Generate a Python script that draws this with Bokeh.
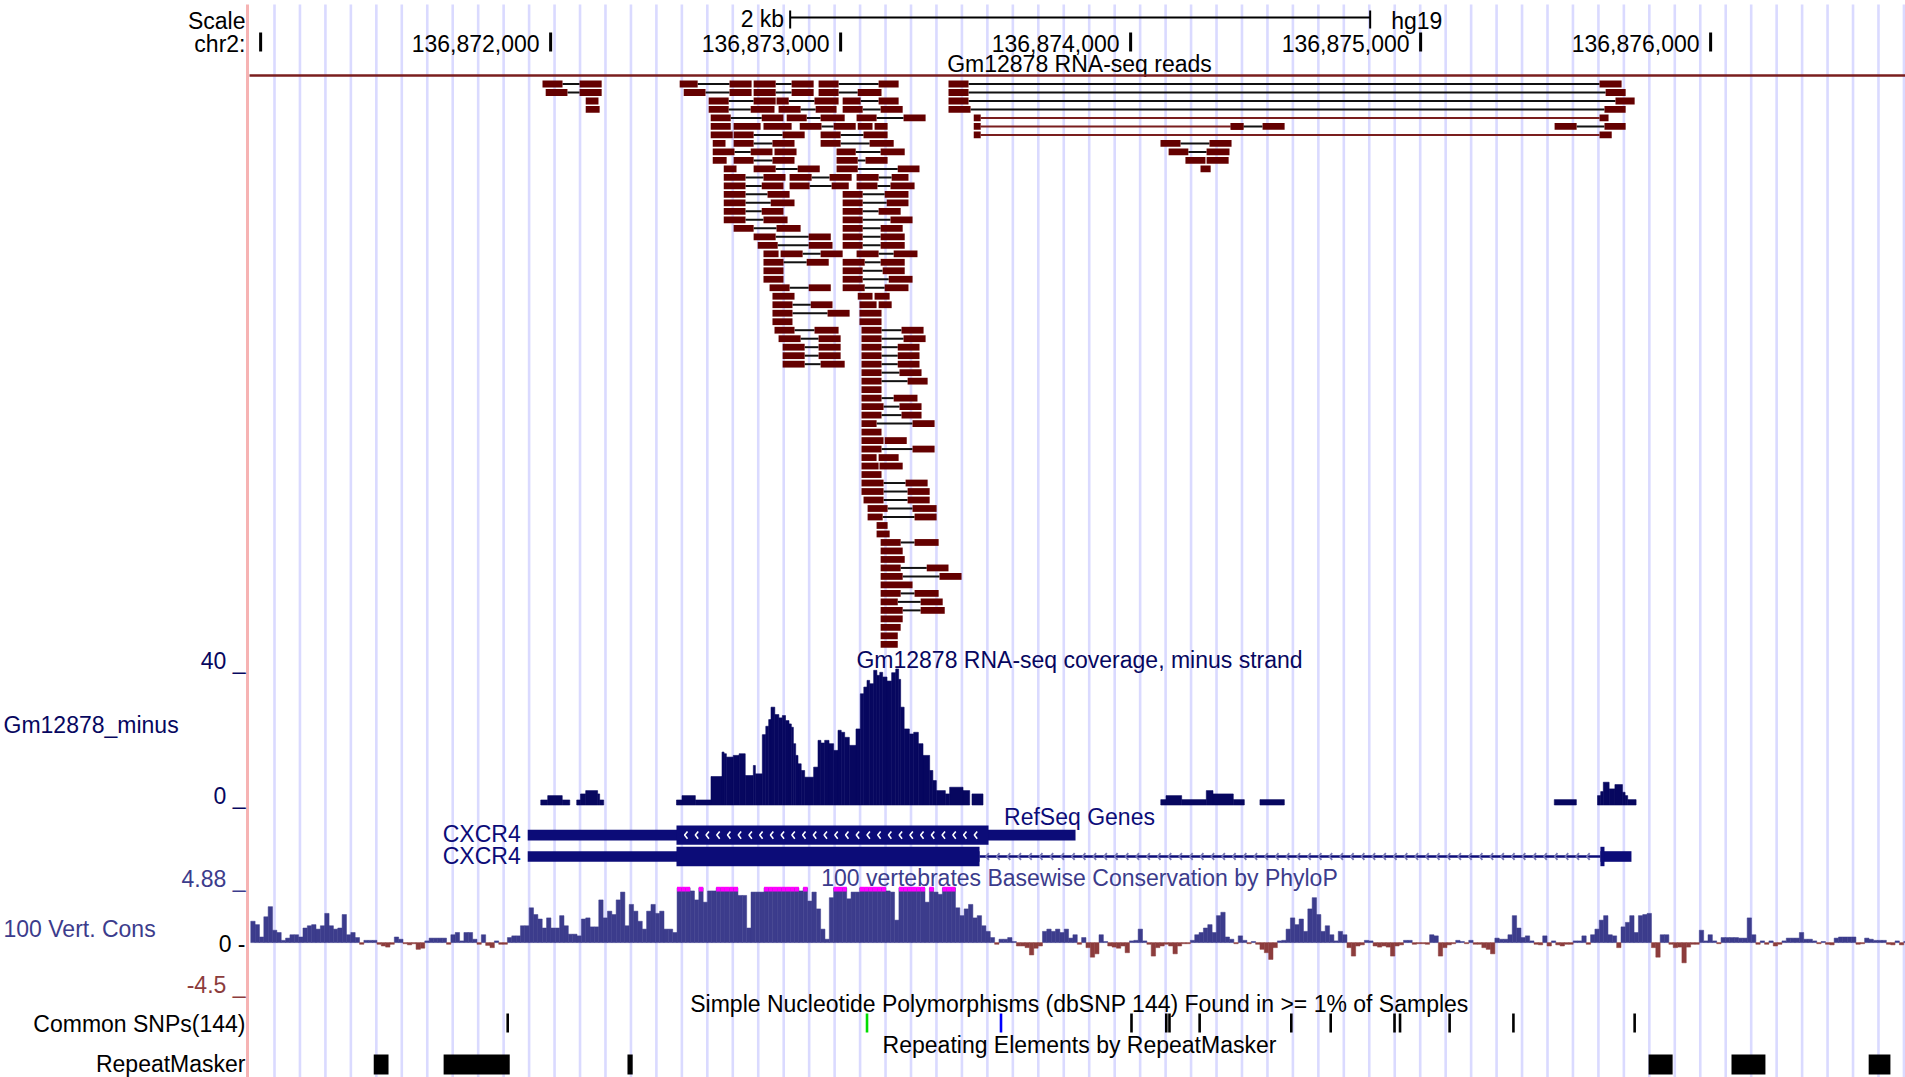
from bokeh.plotting import figure
from bokeh.models import Range1d
from bokeh.embed import file_html
from bokeh.resources import INLINE
from bokeh.core.properties import value

FONT = "Liberation Sans"
FS = "23px"
TEXT_DY = -8.5   # Bokeh places the alphabetic baseline this much lower than asked

# ------------------------------------------------------------------ data
CHROM = "chr2"
BASE = 136870000                      # offsets below are relative to chr2:136,870,000
VIEW = (136870103, 136876672)         # genomic window shown across the canvas

RULER_POS = [136871000, 136872000, 136873000, 136874000, 136875000, 136876000]
RULER_LABELS = ["", "136,872,000", "136,873,000", "136,874,000", "136,875,000", "136,876,000"]
SCALE_BAR_BP = (136872826, 136874826)
SCALE_BAR_LABEL = "2 kb"
ASSEMBLY = "hg19"

# RNA-seq reads: (row, [(blockStart, blockEnd), ...])
READS_BLACK = [
    (0, [(1972, 2041), (2100, 2176)]), (0, [(2445, 2507), (2617, 2693)]), (0, [(2700, 2776), (2831, 2907)]),
    (0, [(2924, 2993), (3131, 3200)]), (0, [(3372, 3441), (5617, 5693)]),
    (1, [(1983, 2058), (2100, 2176)]), (1, [(2459, 2534), (2617, 2693)]), (1, [(2700, 2776), (2831, 2907)]),
    (1, [(2924, 2993), (3059, 3141)]), (1, [(3372, 3441), (5638, 5707)]),
    (2, [(2121, 2165)]), (2, [(2545, 2614), (2700, 2776)]), (2, [(2779, 2821), (2910, 2993)]),
    (2, [(3007, 3069), (3131, 3200)]), (2, [(3372, 3441), (5672, 5738)]),
    (3, [(2121, 2169)]), (3, [(2545, 2614), (2690, 2772)]), (3, [(2786, 2862), (2914, 2986)]),
    (3, [(3007, 3076), (3138, 3214)]), (3, [(3372, 3448), (5634, 5707)]),
    (4, [(2552, 2621), (2728, 2803)]), (4, [(2814, 2883), (2931, 3014)]), (4, [(3055, 3124), (3217, 3293)]),
    (5, [(2552, 2621)]), (5, [(2631, 2724)]), (5, [(2734, 2831)]), (5, [(2859, 2934), (2976, 3052)]),
    (5, [(3059, 3110)]), (5, [(3117, 3162)]), (5, [(4345, 4389), (4455, 4531)]), (5, [(5462, 5538), (5634, 5707)]),
    (6, [(2552, 2628)]), (6, [(2631, 2700), (2800, 2876)]), (6, [(2931, 3000), (3079, 3162)]),
    (7, [(2559, 2603)]), (7, [(2631, 2700), (2765, 2841)]), (7, [(2931, 3000), (3100, 3183)]), (7, [(4103, 4172), (4272, 4348)]),
    (8, [(2559, 2634), (2690, 2765)]), (8, [(2772, 2848)]), (8, [(2986, 3052), (3138, 3221)]), (8, [(4131, 4199), (4262, 4341)]),
    (9, [(2559, 2607)]), (9, [(2631, 2700), (2765, 2841)]), (9, [(2986, 3059), (3086, 3162)]), (9, [(4189, 4258)]), (9, [(4262, 4338)]),
    (10, [(2597, 2641)]), (10, [(2700, 2776), (2852, 2928)]), (10, [(2986, 3059), (3197, 3272)]), (10, [(4241, 4276)]),
    (11, [(2597, 2672), (2734, 2810)]), (11, [(2824, 2900), (2962, 3038)]), (11, [(3055, 3131), (3176, 3234)]),
    (12, [(2597, 2672), (2728, 2803)]), (12, [(2824, 2893), (2969, 3028)]), (12, [(3055, 3127), (3172, 3255)]),
    (13, [(2597, 2672), (2748, 2824)]), (13, [(3007, 3076), (3152, 3234)]),
    (14, [(2597, 2672), (2759, 2841)]), (14, [(3007, 3076), (3159, 3234)]),
    (15, [(2597, 2672), (2728, 2803)]), (15, [(3007, 3076), (3131, 3207)]),
    (16, [(2597, 2672), (2734, 2817)]), (16, [(3007, 3076), (3172, 3248)]),
    (17, [(2631, 2700), (2779, 2862)]), (17, [(3007, 3076), (3138, 3214)]),
    (18, [(2700, 2776), (2890, 2966)]), (18, [(3007, 3076), (3138, 3221)]),
    (19, [(2714, 2783), (2890, 2972)]), (19, [(3007, 3076), (3138, 3221)]),
    (20, [(2734, 2786)]), (20, [(2793, 2869), (2931, 3007)]), (20, [(3055, 3131), (3183, 3265)]),
    (21, [(2734, 2803), (2883, 2959)]), (21, [(3007, 3083), (3138, 3221)]),
    (22, [(2734, 2803)]), (22, [(3007, 3076), (3145, 3221)]),
    (23, [(2734, 2803)]), (23, [(3007, 3076), (3166, 3248)]),
    (24, [(2755, 2824), (2890, 2966)]), (24, [(3007, 3083), (3152, 3234)]),
    (25, [(2765, 2841)]), (25, [(3059, 3110)]), (25, [(3117, 3169)]),
    (26, [(2765, 2834), (2897, 2972)]), (26, [(3065, 3124)]), (26, [(3131, 3176)]),
    (27, [(2765, 2834), (2955, 3031)]), (27, [(3065, 3141)]),
    (28, [(2765, 2834)]), (28, [(3065, 3141)]),
    (29, [(2772, 2841), (2910, 2993)]), (29, [(3072, 3141), (3210, 3286)]),
    (30, [(2786, 2862), (2924, 3000)]), (30, [(3072, 3141), (3217, 3293)]),
    (31, [(2800, 2876), (2924, 3000)]), (31, [(3072, 3141), (3197, 3272)]),
    (32, [(2800, 2876), (2924, 3000)]), (32, [(3072, 3141), (3197, 3272)]),
    (33, [(2800, 2876), (2931, 3014)]), (33, [(3072, 3141), (3197, 3272)]),
    (34, [(3072, 3141), (3203, 3279)]), (35, [(3072, 3141), (3231, 3300)]), (36, [(3072, 3141)]),
    (37, [(3072, 3141), (3183, 3265)]), (38, [(3072, 3148), (3203, 3279)]), (39, [(3072, 3141), (3210, 3279)]),
    (40, [(3072, 3124), (3248, 3324)]), (41, [(3072, 3141)]), (42, [(3072, 3148)]), (42, [(3152, 3228)]),
    (43, [(3072, 3141), (3248, 3324)]), (44, [(3072, 3124)]), (44, [(3131, 3200)]), (45, [(3072, 3131)]), (45, [(3134, 3214)]),
    (46, [(3072, 3141)]), (47, [(3072, 3148), (3224, 3300)]), (48, [(3072, 3148), (3231, 3307)]),
    (49, [(3079, 3148), (3231, 3307)]), (50, [(3093, 3162), (3248, 3331)]), (51, [(3093, 3145), (3255, 3331)]),
    (52, [(3124, 3162)]), (53, [(3124, 3169)]), (54, [(3138, 3207), (3255, 3338)]), (55, [(3138, 3214)]),
    (56, [(3138, 3221)]), (57, [(3138, 3207), (3297, 3372)]), (58, [(3138, 3214), (3341, 3417)]),
    (59, [(3138, 3248)]), (60, [(3138, 3207), (3255, 3338)]), (61, [(3138, 3197), (3276, 3352)]),
    (62, [(3138, 3214), (3276, 3359)]), (63, [(3138, 3214)]), (64, [(3138, 3207)]), (65, [(3138, 3197)]),
    (66, [(3138, 3197)]),
]
READS_RED = [
    (4, [(3459, 3483), (5617, 5648)]),
    (5, [(3459, 3483), (4345, 4389)]),
    (6, [(3459, 3483), (5617, 5659)]),
]

# minus-strand coverage: (start, end, depth)
COVERAGE = [
    (1966, 1990, 1.5), (1990, 2040, 2.8), (2040, 2066, 1.5),
    (2090, 2103, 1.5), (2103, 2121, 3.3), (2121, 2162, 4.3), (2162, 2169, 3.3), (2169, 2183, 1.5),
    (2434, 2453, 1.5), (2453, 2499, 2.8), (2499, 2553, 1.5),
    (2553, 2591, 8.5), (2591, 2598, 15.8), (2598, 2606, 15.3), (2606, 2630, 14.3), (2630, 2650, 14.8), (2650, 2671, 15.3),
    (2671, 2699, 8.8), (2699, 2706, 11.8), (2706, 2730, 9.3),
    (2730, 2742, 21.0), (2742, 2752, 23.5), (2752, 2760, 25.5), (2760, 2773, 29.2), (2773, 2787, 27.0), (2787, 2799, 26.0),
    (2799, 2810, 26.7), (2810, 2822, 25.2), (2822, 2830, 24.2), (2830, 2837, 23.2), (2837, 2845, 18.3), (2845, 2853, 14.8),
    (2853, 2864, 12.3), (2864, 2876, 10.3),
    (2876, 2907, 8.3), (2907, 2922, 11.3), (2922, 2932, 19.3), (2932, 2945, 18.5), (2945, 2960, 19.3), (2960, 2976, 18.3),
    (2976, 2991, 16.3), (2991, 3002, 22.3), (3002, 3014, 21.7), (3014, 3030, 20.2), (3030, 3053, 17.8), (3053, 3068, 22.7),
    (3068, 3080, 33.2), (3080, 3091, 35.2), (3091, 3100, 37.2), (3100, 3114, 36.2), (3114, 3125, 40.2), (3125, 3135, 38.7),
    (3135, 3145, 39.6), (3145, 3160, 38.2), (3160, 3176, 37.0), (3176, 3190, 39.5), (3190, 3200, 40.6), (3200, 3207, 37.5),
    (3207, 3219, 29.2), (3219, 3237, 22.7), (3237, 3252, 21.2), (3252, 3268, 21.7), (3268, 3284, 18.3), (3284, 3307, 14.8),
    (3307, 3318, 10.3), (3318, 3330, 7.3),
    (3330, 3361, 4.3), (3361, 3376, 3.3), (3376, 3422, 5.3), (3422, 3445, 4.3), (3453, 3491, 3.3),
    (4104, 4122, 1.6), (4122, 4176, 2.8), (4176, 4261, 1.6), (4261, 4284, 4.3), (4284, 4354, 3.3), (4354, 4392, 1.6),
    (4446, 4530, 1.6), (5461, 5537, 1.6),
    (5610, 5621, 2.8), (5621, 5630, 4.0), (5630, 5650, 6.8), (5650, 5670, 4.8), (5670, 5696, 6.1), (5696, 5705, 3.8),
    (5705, 5714, 2.8), (5714, 5743, 1.6),
]
COV_MAX = 40

# RefSeq genes
GENE_NAME = ["CXCR4", "CXCR4"]
GENE_TX = [(1921, 3810), (1921, 5727)]
GENE_CDS = [(2434, 3510), (2434, 5634)]
GENE_EXONS = [[(1921, 3810)], [(1921, 3479), (5620, 5727)]]

# PhyloP 100-way, 15-bp bins starting at CONS_START
CONS_START = 966
CONS_STEP = 15
CONS_MAX, CONS_MIN = 4.88, -4.5
CONS_VALUES = [
    1.9, 1.6, 0.5, 2.3, 3.2, 1.1, 0.9, 0.2, 0.4, 0.7,
    0.7, 0.5, 1.3, 1.5, 1.6, 1.2, 1.5, 2.6, 1.5, 1.2,
    1.3, 2.5, 0.7, 0.9, 0.45, -0.15, 0.2, 0.2, 0.2, -0.15,
    -0.3, -0.4, -0.15, 0.5, 0.3, -0.1, -0.2, -0.1, -0.6, -0.5,
    0.15, 0.4, 0.4, 0.4, 0.4, -0.15, 0.7, 0.9, 0.15, 0.9,
    0.9, 0.3, -0.15, 0.7, -0.25, -0.45, 0.15, -0.15, -0.15, 0.45,
    0.6, 0.6, 1.5, 1.5, 3.1, 2.5, 2.1, 1.3, 2.2, 1.3,
    1.3, 2.4, 1.5, 0.75, 0.75, 0.6, 2.1, 2.2, 1.4, 1.4,
    3.8, 2.2, 2.8, 2.5, 3.8, 4.5, 1.5, 3.4, 2.8, 1.9,
    1.2, 2.8, 3.4, 2.6, 2.8, 1.2, 1.2, 0.9, 5, 5,
    5, 4.6, 3.8, 5, 3.6, 4.6, 4.6, 5, 5, 5,
    5, 5, 4.2, 4.2, 1.3, 4.5, 4.5, 4.5, 5, 5,
    5, 5, 5, 5, 5, 5, 4.6, 5, 3.7, 4.5,
    3.0, 1.2, 0.3, 4.0, 5, 5, 5, 3.9, 4.5, 4.5,
    5, 5, 5, 5, 5, 5, 4.6, 4.5, 2.0, 5,
    5, 5, 5, 5, 5, 3.6, 5, 4.5, 4.3, 5,
    5, 5, 3.1, 2.4, 3.0, 3.4, 2.2, 2.4, 1.5, 1.0,
    0.45, -0.15, 0.3, 0.3, 0.45, 0.1, -0.3, -0.3, -0.45, -1.1,
    -0.5, -0.3, 1.0, 1.2, 1.0, 1.2, 0.9, 1.2, 0.4, 0.7,
    -0.15, 0.45, -0.45, -1.3, -1.0, 0.7, 0.1, -0.3, -0.4, -0.5,
    -0.3, -0.9, 0.15, 0.2, 1.2, 0.15, -0.15, -1.2, -0.45, -0.3,
    -0.15, -0.3, -1.0, -0.3, -0.1, -0.1, 0.2, 0.7, 0.9, 1.3,
    1.6, 0.9, 2.4, 2.7, 0.5, 0.3, -0.1, 0.6, 0.2, -0.1,
    0.1, -0.15, -0.6, -0.9, -1.5, -0.45, 0.15, 0.2, 1.2, 2.2,
    1.6, 2.1, 1.0, 3.0, 4.0, 2.5, 1.0, 1.5, 0.7, 0.15,
    1.0, 0.7, -0.45, -1.2, -0.3, -0.2, 0.2, 0.15, -0.3, -0.4,
    -0.3, -0.4, -1.2, -0.3, -0.2, 0.2, 0.2, -0.15, -0.1, -0.1,
    -0.15, 0.7, 0.6, -1.2, -0.45, -0.2, -0.1, 0.2, 0.1, -0.1,
    0.2, -0.15, -0.15, -0.45, -0.6, -1.0, 0.4, 0.3, 0.3, 0.7,
    2.4, 1.3, 0.45, 0.6, 0.15, -0.15, -0.2, 0.6, -0.3, 0.15,
    -0.2, -0.3, -0.15, -0.15, 0.15, 0.15, 0.6, -0.15, 0.7, 1.2,
    2.0, 2.4, 0.7, 0.6, -0.45, 1.4, 1.8, 2.4, 0.9, 2.4,
    2.5, 2.6, -0.45, -1.3, 0.7, 0.7, -0.15, -0.45, -0.4, -1.8,
    -0.4, -0.15, -0.15, 1.1, 0.15, 0.7, 0.15, -0.1, 0.45, 0.45,
    0.45, 0.45, 0.4, 0.4, 2.2, 0.7, -0.15, 0.15, -0.15, 0.15,
    -0.3, -0.15, 0.15, 0.4, 0.4, 0.4, 0.9, 0.3, 0.3, 0.15,
    -0.1, 0.1, -0.15, -0.2, 0.4, 0.5, 0.5, 0.5, 0.5, -0.15,
    -0.1, 0.4, 0.3, 0.2, 0.2, 0.2, -0.15, -0.2, 0.15, -0.2, 0.1,
]

# common SNPs (dbSNP 144)
SNP_POS = [1852, 3091, 3553, 4003, 4123, 4134, 4238, 4554, 4690, 4910, 4929, 5100, 5320, 5738]
SNP_CLASS = ["other", "coding-syn", "coding-nonsyn"] + ["other"] * 11

# RepeatMasker elements
RMSK_START = [1390, 1631, 2265, 5786, 6072, 6545]
RMSK_END = [1441, 1859, 2283, 5869, 6189, 6620]

# ------------------------------------------------------------------ layout / style
W, H = 1905, 1077
TOP, BOT = 0, H
LEFT, RIGHT = 0, W
LABEL_RIGHT = 245
CENTER_X = 1079

NAVY = "#07075f"
GENE_COLOR = "#0c0c78"
CONS_POS = "#3c3c8c"
CONS_NEG = "#8c3c3c"
READ_COLOR = "#640000"
SNP_COLORS = {"other": "black", "coding-syn": "#00dd00", "coding-nonsyn": "#0000ff"}


def band(v_a, y_a, v_b, y_b):
    """Range whose values v_a, v_b land on screen rows y_a, y_b."""
    k = (y_b - y_a) / (v_b - v_a)
    return Range1d(start=v_a + (BOT - y_a) / k, end=v_a + (TOP - y_a) / k)


p = figure(width=W, height=H, x_range=Range1d(*VIEW), y_range=Range1d(BOT, TOP),
           x_axis_type=None, y_axis_type=None, output_backend="svg", toolbar_location=None,
           min_border=0, outline_line_color=None, background_fill_color="white",
           border_fill_color="white")
p.extra_x_ranges = {"px": Range1d(LEFT, RIGHT)}
p.extra_y_ranges = {
    "rows": band(0, 83.5, 1, 91.99),
    "cov": band(0, 804.5, COV_MAX, 670.5),
    "cons": band(0, 942.1, CONS_MAX, 887.3),
}


def text(x, y, t, align="left", color="black", xr="px", x_offset=0, size=FS):
    xs = x if isinstance(x, list) else [x]
    ts = t if isinstance(t, list) else [t]
    p.text(x=xs, y=y + TEXT_DY, text=ts, text_align=align, text_baseline="alphabetic",
           text_color=color, text_font=value(FONT), text_font_size=size,
           x_range_name=xr, x_offset=x_offset)


# guidelines and left border
gx = [274 + 25.46 * k for k in range(65)]
p.segment(x0=gx, y0=4, x1=gx, y1=BOT, x_range_name="px", line_color="#dadaff", line_width=2.6)
p.segment(x0=[247], y0=4, x1=[247], y1=BOT, x_range_name="px", line_color="#f6b3b3", line_width=3)

# ---- ruler
text(LABEL_RIGHT, 29.3, "Scale", "right")
text(LABEL_RIGHT, 51.7, CHROM + ":", "right")
p.segment(x0=[SCALE_BAR_BP[0]], y0=17, x1=[SCALE_BAR_BP[1]], y1=17, line_color="black", line_width=2)
p.segment(x0=list(SCALE_BAR_BP), y0=10, x1=list(SCALE_BAR_BP), y1=28, line_color="black", line_width=2)
text(SCALE_BAR_BP[0], 27.3, SCALE_BAR_LABEL, "right", xr="default", x_offset=-6)
text(SCALE_BAR_BP[1], 29.3, ASSEMBLY, "left", xr="default", x_offset=21)
p.segment(x0=RULER_POS, y0=32, x1=RULER_POS, y1=51, line_color="black", line_width=3)
text([x for x, l in zip(RULER_POS, RULER_LABELS) if l], 51.5,
     [l for l in RULER_LABELS if l], "right", xr="default", x_offset=-11)

# ---- RNA-seq reads
text(CENTER_X, 72.3, "Gm12878 RNA-seq reads", "center")
p.segment(x0=[249], y0=75, x1=[RIGHT], y1=75, x_range_name="px", line_color="#7a1e1e", line_width=2.5)


def read_geom(reads):
    bl, br, brow, g0, g1, grow = [], [], [], [], [], []
    for row, blocks in reads:
        for s, e in blocks:
            bl.append(BASE + s); br.append(BASE + e); brow.append(row)
        for (s0, e0), (s1, e1) in zip(blocks, blocks[1:]):
            g0.append(BASE + e0); g1.append(BASE + s1); grow.append(row)
    return bl, br, brow, g0, g1, grow


bl, br, brow, g0, g1, grow = read_geom(READS_BLACK)
rl, rr, rrow, r0, r1, rgrow = read_geom(READS_RED)
p.segment(x0=g0, y0=grow, x1=g1, y1=grow, y_range_name="rows", line_color="#111111", line_width=2)
p.segment(x0=r0, y0=rgrow, x1=r1, y1=rgrow, y_range_name="rows", line_color="#7a1e1e", line_width=2)
allL, allR, allRow = bl + rl, br + rr, brow + rrow
p.quad(left=allL, right=allR, top=[r - 0.4 for r in allRow], bottom=[r + 0.4 for r in allRow],
       y_range_name="rows", fill_color=READ_COLOR, line_color=None)

# ---- coverage
text(LABEL_RIGHT, 668.5, "40 _", "right", color=NAVY)
text(LABEL_RIGHT, 804.0, "0 _", "right", color=NAVY)
text(3, 733, "Gm12878_minus", "left", color=NAVY)
text(CENTER_X, 668.3, "Gm12878 RNA-seq coverage, minus strand", "center", color=NAVY)
p.quad(left=[BASE + s for s, e, v in COVERAGE], right=[BASE + e for s, e, v in COVERAGE],
       bottom=0, top=[v for s, e, v in COVERAGE], y_range_name="cov",
       fill_color=NAVY, line_color=NAVY, line_width=0.6)

# ---- RefSeq genes
text(CENTER_X, 825, "RefSeq Genes", "center", color=GENE_COLOR)
ROW_Y = [834.6, 856.0]
THICK_H, THIN_H = 19.4, 10.6
for gi, name in enumerate(GENE_NAME):
    yc = ROW_Y[gi]
    ex = GENE_EXONS[gi]
    cs, ce = GENE_CDS[gi]
    text(BASE + GENE_TX[gi][0], yc + 7.6, name, "right", color=GENE_COLOR, xr="default", x_offset=-7)
    for (s0, e0), (s1, e1) in zip(ex, ex[1:]):
        p.segment(x0=[BASE + e0], y0=yc, x1=[BASE + s1], y1=yc, line_color=GENE_COLOR, line_width=2.5)
        cx = list(range(e0 + 22, s1 - 20, 37))
        p.multi_line(xs=[[BASE + c + 10, BASE + c, BASE + c + 10] for c in cx],
                     ys=[[yc - 3.4, yc, yc + 3.4] for c in cx], line_color="#7878b8", line_width=1.8)
    p.quad(left=[BASE + s for s, e in ex], right=[BASE + e for s, e in ex],
           top=yc - THIN_H / 2, bottom=yc + THIN_H / 2, fill_color=GENE_COLOR, line_color=None)
    thick = [(max(s, cs), min(e, ce)) for s, e in ex if min(e, ce) > max(s, cs)]
    p.quad(left=[BASE + s for s, e in thick], right=[BASE + e for s, e in thick],
           top=yc - THICK_H / 2, bottom=yc + THICK_H / 2, fill_color=GENE_COLOR, line_color=None)
    if len(ex) == 1:
        cx = list(range(cs + 28, ce - 15, 37))
        p.multi_line(xs=[[BASE + c + 10, BASE + c, BASE + c + 10] for c in cx],
                     ys=[[yc - 3.6, yc, yc + 3.6] for c in cx], line_color="white", line_width=1.6)

# ---- conservation
text(LABEL_RIGHT, 887.3, "4.88 _", "right", color=CONS_POS)
text(3, 936.7, "100 Vert. Cons", "left", color=CONS_POS)
text(LABEL_RIGHT, 951.7, "0 -", "right")
text(LABEL_RIGHT, 992.7, "-4.5 _", "right", color=CONS_NEG)
text(CENTER_X, 886, "100 vertebrates Basewise Conservation by PhyloP", "center", color=CONS_POS)
c_left = [BASE + CONS_START + CONS_STEP * i for i in range(len(CONS_VALUES))]
c_right = [x + CONS_STEP for x in c_left]
pos = [i for i, v in enumerate(CONS_VALUES) if v >= 0]
neg = [i for i, v in enumerate(CONS_VALUES) if v < 0]
p.quad(left=[c_left[i] for i in pos], right=[c_right[i] for i in pos], bottom=0,
       top=[min(CONS_VALUES[i], CONS_MAX) for i in pos], y_range_name="cons",
       fill_color=CONS_POS, line_color=CONS_POS, line_width=0.5)
p.quad(left=[c_left[i] for i in neg], right=[c_right[i] for i in neg], bottom=0,
       top=[max(CONS_VALUES[i], CONS_MIN) for i in neg], y_range_name="cons",
       fill_color=CONS_NEG, line_color=CONS_NEG, line_width=0.5)
clip = [i for i, v in enumerate(CONS_VALUES) if v > CONS_MAX]
p.quad(left=[c_left[i] for i in clip], right=[c_right[i] for i in clip], bottom=4.55, top=4.97,
       y_range_name="cons", fill_color="#ff00ff", line_color=None)

# ---- SNPs
text(LABEL_RIGHT, 1031.7, "Common SNPs(144)", "right")
text(CENTER_X, 1012.3, "Simple Nucleotide Polymorphisms (dbSNP 144) Found in >= 1% of Samples", "center")
p.segment(x0=[BASE + s for s in SNP_POS], y0=1013, x1=[BASE + s for s in SNP_POS], y1=1032,
          line_color=[SNP_COLORS[c] for c in SNP_CLASS], line_width=2.6)

# ---- RepeatMasker
text(LABEL_RIGHT, 1071.7, "RepeatMasker", "right")
text(CENTER_X, 1053.3, "Repeating Elements by RepeatMasker", "center")
p.quad(left=[BASE + s for s in RMSK_START], right=[BASE + e for e in RMSK_END], top=1054, bottom=1074,
       fill_color="black", line_color=None)

open("out.html", "w").write(file_html(p, INLINE))
